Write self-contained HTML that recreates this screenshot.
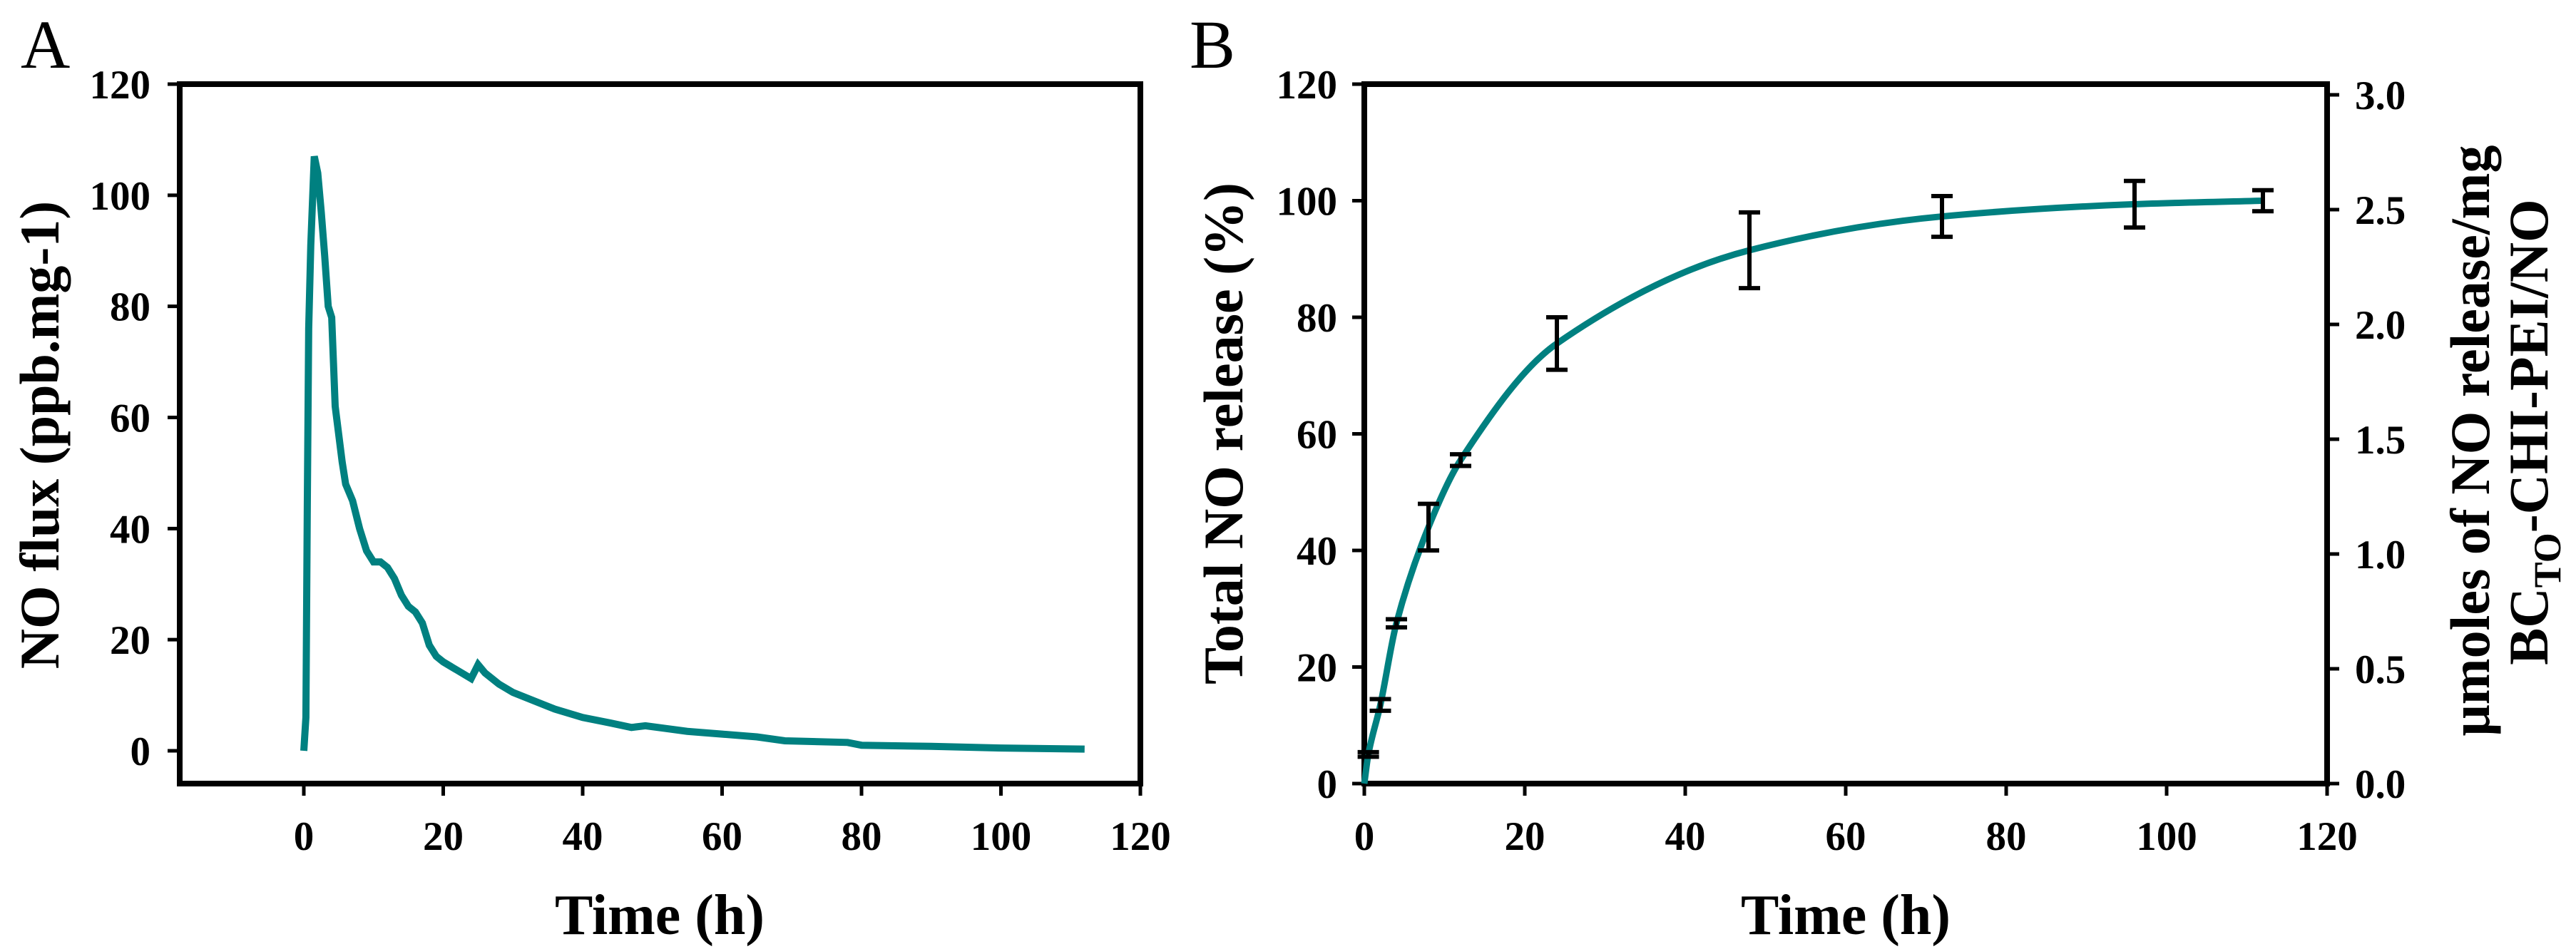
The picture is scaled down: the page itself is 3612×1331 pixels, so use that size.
<!DOCTYPE html>
<html><head><meta charset="utf-8"><style>
html,body{margin:0;padding:0;background:#fff;}
svg{display:block;font-family:"Liberation Serif","Times New Roman",serif;}
</style></head><body>
<svg id="fig" width="3612" height="1331" viewBox="0 0 3612 1331" xmlns="http://www.w3.org/2000/svg">
<g id="gA"></g>
<g id="gB"></g>
</svg>
<script>
// Panel A data (NO flux)
const aTimes = [0,0.3,0.5,0.7,1.0,1.5,2.0,2.5,3.0,3.5,4.0,4.5,5.0,5.5,6.0,7.0,8.0,9.0,10.0,11.0,12.0,13.0,14.0,15.0,16.0,17.0,18.0,19.0,20.0,22.0,24.0,25.0,26.0,28.0,30.0,33.0,36.0,40.0,44.0,47.0,49.0,52.0,55.0,60.0,65.0,69.0,72.0,78.0,80.0,90.0,100.0,112.0];
const aFlux  = [0,6,44,76,91,107,104,97,89,80,78,62,57,52,48,45,40,36,34,34,33,31,28,26,25,23,19,17,16,14.5,13,15.5,14,12,10.5,9,7.5,6,5,4.2,4.5,4,3.5,3,2.5,1.8,1.7,1.5,1.0,0.8,0.5,0.3];
const aXTicks = [0,20,40,60,80,100,120];
const aYTicks = [0,20,40,60,80,100,120];
// Panel B data (cumulative release)
const bTimes = [0.5,2,4,8,12,24,48,72,96,112];
const bMeans = [5,13.5,27.5,44,55.5,75.5,91.5,97.3,99.4,100];
const bErr   = [0.4,1,0.7,4,1,4.5,6.5,3.5,4,1.8];
const bXTicks = [0,20,40,60,80,100,120];
const bYTicks = [0,20,40,60,80,100,120];
const bY2Ticks = ["0.0","0.5","1.0","1.5","2.0","2.5","3.0"];

const NS="http://www.w3.org/2000/svg";
function mk(parent,tag,attrs,text){const e=document.createElementNS(NS,tag);for(const k in attrs)e.setAttribute(k,attrs[k]);if(text!==undefined)e.textContent=text;parent.appendChild(e);return e;}
const TEAL="#008080";

// ---- Panel A ----
const gA=document.getElementById('gA');
const axA={l:252,r:1599,t:118,b:1099,x0:426,x1:1599,y0:1053,y1:118};
const xA=v=>axA.x0+(v-0)/(120)*(axA.x1-axA.x0);
const yA=v=>axA.y0-(v/120)*(axA.y0-axA.y1);
let t=mk(gA,'text',{x:29,y:95,'font-size':96});t.textContent='A';


let fr=mk(gA,'rect',{x:axA.l,y:axA.t,width:axA.r-axA.l,height:axA.b-axA.t,fill:'none',stroke:'#000','stroke-width':8});


aYTicks.forEach(v=>{
  const l=mk(gA,'line',{x1:axA.l-17,x2:axA.l,y1:yA(v),y2:yA(v),stroke:'#000','stroke-width':5});
  
  
  const tx=mk(gA,'text',{x:211,y:yA(v)+20,'font-size':57,'font-weight':'bold','text-anchor':'end'},String(v));
  
  
});
aXTicks.forEach(v=>{
  const l=mk(gA,'line',{x1:xA(v),x2:xA(v),y1:axA.b,y2:axA.b+17,stroke:'#000','stroke-width':5});
  
  
  const tx=mk(gA,'text',{x:xA(v),y:1192,'font-size':57,'font-weight':'bold','text-anchor':'middle'},String(v));
  
  
});
let pA='';
for(let i=0;i<aTimes.length;i++){
  const X=xA(aTimes[i]),Y=yA(aFlux[i]);
  if(i===0)pA+='M'+X+' '+Y;else{pA+=' L'+X+' '+Y;}
}
let la=mk(gA,'path',{d:pA,fill:'none',stroke:TEAL,'stroke-width':10,'stroke-linejoin':'miter'});


t=mk(gA,'text',{x:925,y:1310,'font-size':80,'font-weight':'bold','text-anchor':'middle'},'Time (h)');


t=mk(gA,'text',{x:0,y:0,'font-size':78,'font-weight':'bold','text-anchor':'middle',transform:'translate(82,610) rotate(-90)'},'NO flux (ppb.mg-1)');



// ---- Panel B ----
const gB=document.getElementById('gB');
const axB={l:1913,r:3263,t:118,b:1099};
const xB=v=>axB.l+v/120*(axB.r-axB.l);
const yB=v=>axB.b-v/120*(axB.b-axB.t);
const yB2=v=>axB.b-v/3*(axB.b-133);
t=mk(gB,'text',{x:1668,y:95,'font-size':96},'B');


fr=mk(gB,'path',{d:`M${axB.l} ${axB.t} L${axB.r} ${axB.t} L${axB.r} ${axB.b} L${axB.l} ${axB.b} Z`,fill:'none',stroke:'#000','stroke-width':8});


bYTicks.forEach(v=>{
  const l=mk(gB,'line',{x1:axB.l-17,x2:axB.l,y1:yB(v),y2:yB(v),stroke:'#000','stroke-width':5});
  
  
  const tx=mk(gB,'text',{x:1875,y:yB(v)+20,'font-size':57,'font-weight':'bold','text-anchor':'end'},String(v));
  
  
});
bY2Ticks.forEach(s=>{
  const v=parseFloat(s);
  const l=mk(gB,'line',{x1:axB.r,x2:axB.r+17,y1:yB2(v),y2:yB2(v),stroke:'#000','stroke-width':5});
  
  
  const tx=mk(gB,'text',{x:3302,y:yB2(v)+20,'font-size':57,'font-weight':'bold','text-anchor':'start'},s);
  
  
});
bXTicks.forEach(v=>{
  const l=mk(gB,'line',{x1:xB(v),x2:xB(v),y1:axB.b,y2:axB.b+17,stroke:'#000','stroke-width':5});
  
  
  const tx=mk(gB,'text',{x:xB(v),y:1192,'font-size':57,'font-weight':'bold','text-anchor':'middle'},String(v));
  
  
});
const cx=[0].concat(bTimes), cy=[0].concat(bMeans);
const n=cx.length, d=[], m=[];
for(let i=0;i<n-1;i++)d.push((cy[i+1]-cy[i])/(cx[i+1]-cx[i]));
m[0]=d[0];m[n-1]=d[n-2];
for(let i=1;i<n-1;i++){m[i]=(d[i-1]*d[i]<=0)?0:2/(1/d[i-1]+1/d[i]);}
let pB='M'+xB(cx[0])+' '+yB(cy[0]);
for(let i=0;i<n-1;i++){
  const h=cx[i+1]-cx[i];
  pB+=' C'+xB(cx[i]+h/3)+' '+yB(cy[i]+m[i]*h/3)+' '+xB(cx[i+1]-h/3)+' '+yB(cy[i+1]-m[i+1]*h/3)+' '+xB(cx[i+1])+' '+yB(cy[i+1]);
}
let lb=mk(gB,'path',{d:pB,fill:'none',stroke:TEAL,'stroke-width':9});


bTimes.forEach((tv,i)=>{
  const X=xB(tv),Yt=yB(bMeans[i]+bErr[i]),Yb=yB(bMeans[i]-bErr[i]);
  const g=mk(gB,'path',{d:`M${X} ${Yt} L${X} ${Yb} M${X-15} ${Yt} L${X+15} ${Yt} M${X-15} ${Yb} L${X+15} ${Yb}`,stroke:'#000','stroke-width':6,fill:'none'});
  
  
});
t=mk(gB,'text',{x:2588,y:1310,'font-size':80,'font-weight':'bold','text-anchor':'middle'},'Time (h)');


t=mk(gB,'text',{x:0,y:0,'font-size':78,'font-weight':'bold','text-anchor':'middle',transform:'translate(1742,608) rotate(-90)'},'Total NO release (%)');


t=mk(gB,'text',{x:0,y:0,'font-size':78,'font-weight':'bold','text-anchor':'middle',transform:'translate(3490,618) rotate(-90)'},'μmoles of NO release/mg');


t=mk(gB,'text',{x:0,y:0,'font-size':78,'font-weight':'bold','text-anchor':'middle',transform:'translate(3572,606) rotate(-90)'});


mk(t,'tspan',{},'BC');
mk(t,'tspan',{'font-size':54,dy:18},'TO');
mk(t,'tspan',{dy:-18},'-CHI-PEI/NO');
</script>
</body></html>
